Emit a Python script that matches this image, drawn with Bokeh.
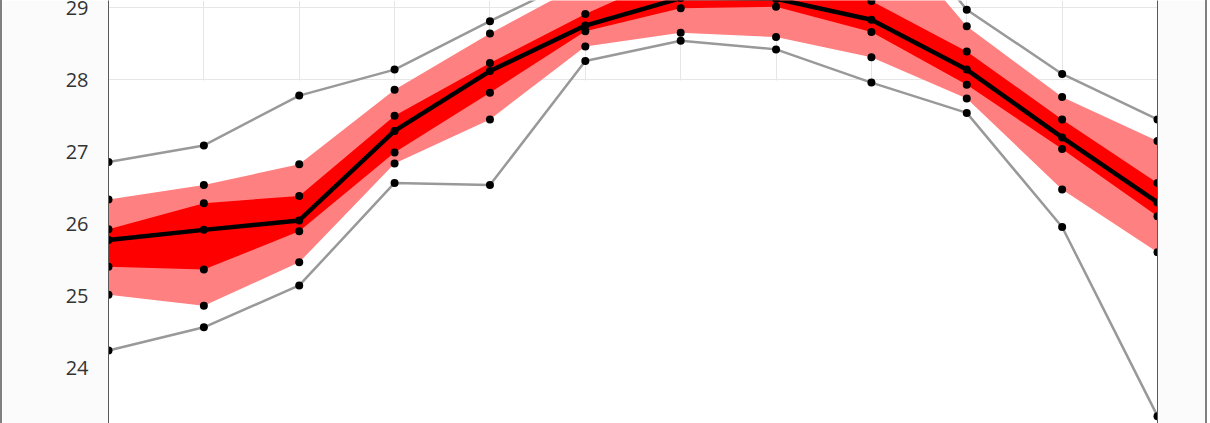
from bokeh.plotting import figure
from bokeh.models import Range1d, LinearAxis, FixedTicker, Grid
from bokeh.embed import file_html
from bokeh.resources import INLINE

months = [1, 2, 3, 4, 5, 6, 7, 8, 9, 10, 11, 12]
t_max = [26.86, 27.09, 27.78, 28.14, 28.81, 29.45, 30.50, 30.80, 30.60, 28.97, 28.08, 27.45]
t_p90 = [26.34, 26.54, 26.83, 27.86, 28.64, 29.35, 30.00, 30.40, 30.30, 28.74, 27.76, 27.15]
t_p75 = [25.93, 26.29, 26.39, 27.50, 28.23, 28.91, 29.50, 29.50, 29.09, 28.39, 27.45, 26.57]
t_med = [25.78, 25.92, 26.05, 27.29, 28.12, 28.75, 29.13, 29.12, 28.83, 28.14, 27.20, 26.30]
t_p25 = [25.41, 25.37, 25.90, 26.99, 27.82, 28.67, 28.99, 29.01, 28.66, 27.93, 27.04, 26.11]
t_p10 = [25.02, 24.87, 25.47, 26.84, 27.45, 28.46, 28.65, 28.59, 28.31, 27.74, 26.48, 25.61]
t_min = [24.25, 24.57, 25.15, 26.57, 26.54, 28.26, 28.54, 28.42, 27.96, 27.54, 25.96, 23.34]
y_ticks = [24, 25, 26, 27, 28, 29]
grid_from = 28

p = figure(width=1207, height=423, output_backend="svg", toolbar_location=None,
           x_range=Range1d(1, 12), y_range=Range1d(23.238, 29.097),
           x_axis_location=None,
           min_border_left=106, min_border_right=52, min_border_top=0, min_border_bottom=0)
p.border_fill_color = "#fbfbfb"
p.background_fill_color = "white"
p.outline_line_color = None
p.grid.grid_line_color = None
p.styles = {"border-left": "2px solid #808080", "border-right": "2px solid #808080",
            "box-sizing": "border-box"}

# grids
p.add_layout(Grid(dimension=0, ticker=FixedTicker(ticks=months), grid_line_color="#e6e6e6", grid_line_width=1))
p.add_layout(Grid(dimension=1, ticker=FixedTicker(ticks=y_ticks), grid_line_color="#e6e6e6", grid_line_width=1))

# left axis
ax = p.yaxis[0]
ax.ticker = FixedTicker(ticks=y_ticks)
ax.axis_line_color = "#595959"
ax.axis_line_width = 1
ax.major_tick_line_color = None
ax.minor_tick_line_color = None
ax.major_tick_out = 0
ax.major_tick_in = 0
ax.minor_tick_out = 0
ax.major_label_standoff = 20
ax.major_label_text_font = "Open Sans"
ax.major_label_text_font_size = "20px"
ax.major_label_text_color = "#333333"

# right axis line
ra = LinearAxis(ticker=FixedTicker(ticks=[]), axis_line_color="#595959", axis_line_width=1,
                major_tick_line_color=None, minor_tick_line_color=None,
                major_tick_out=0, minor_tick_out=0)
p.add_layout(ra, "right")

# white cover hiding the grid below 28
p.quad(left=[months[0]], right=[months[-1]], bottom=[23.0], top=[grid_from - 0.012],
       fill_color="white", line_color=None)

# bands
p.varea(x=months, y1=t_p10, y2=t_p90, fill_color="#ff8080")
p.varea(x=months, y1=t_p25, y2=t_p75, fill_color="#ff0000")

# extreme lines
p.line(months, t_max, line_color="#999999", line_width=2.5)
p.line(months, t_min, line_color="#999999", line_width=2.5)

# median
p.line(months, t_med, line_color="black", line_width=4.5)

for s in [t_max, t_p90, t_p75, t_med, t_p25, t_p10, t_min]:
    p.scatter(months, s, size=8, fill_color="black", line_color=None)

open("out.html", "w").write(file_html(p, INLINE))
